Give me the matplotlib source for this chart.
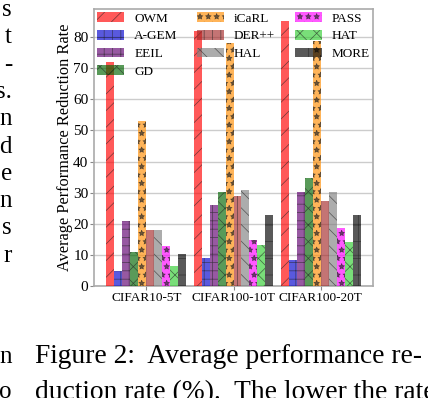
import numpy as np
from matplotlib import pyplot as plt

plt.rcParams['font.family'] = ['Liberation Serif', 'DejaVu Serif']
plt.rcParams['hatch.linewidth'] = 0.5

datasets = ["CIFAR10-5T", "CIFAR100-10T", "CIFAR100-20T"]
methods = ["OWM", "A-GEM", "EEIL", "GD", "iCaRL", "DER++", "HAL", "PASS", "HAT", "MORE"]

# reduction rate per method, one value per dataset
owm = [72, 82, 85]
agem = [4.8, 9.0, 8.3]
eeil = [20.8, 26, 30.1]
gd = [10.9, 30.1, 34.6]
icarl = [53.1, 78.1, 78.7]
derpp = [17.9, 28.8, 27.2]
hal = [17.9, 30.7, 30.1]
pass_ = [12.8, 14.7, 18.6]
hat = [6.4, 13.1, 14.1]
more = [10.2, 22.7, 22.7]
values = [owm, agem, eeil, gd, icarl, derpp, hal, pass_, hat, more]

colors = ['red', 'mediumblue', '#600070', 'darkgreen', 'darkorange',
          'brown', 'gray', 'magenta', 'limegreen', 'black']
hatches = ['//', '++', '++', 'xx', '**', '||', '\\\\', '**', 'xx', '+']

fig = plt.figure(figsize=(4.28, 3.98), dpi=100)
ax = fig.add_axes([94 / 428, 1 - 286 / 398, (373 - 94) / 428, (286 - 9) / 398])

x = np.arange(len(datasets))
w = 0.0914
for i, (m, v) in enumerate(zip(methods, values)):
    ax.bar(x + (i - 4.5) * w, v, w, color=colors[i], alpha=0.65, hatch=hatches[i],
           edgecolor='#222222', linewidth=0, label=m, zorder=3)

ax.set_xlim(-0.6, 2.6)
ax.set_ylim(0, 89)
ax.set_yticks(range(0, 90, 10))
ax.set_xticks(x)
ax.set_xticklabels(datasets, fontsize=9.5)
ax.tick_params(axis='y', labelsize=11, length=3, pad=1, color='#888888')
ax.tick_params(axis='x', length=3, pad=1, color='#888888')
ax.set_ylabel("Average Performance Reduction Rate", fontsize=11.8, labelpad=0)
ax.grid(axis='y', color='#cccccc', linewidth=1, zorder=0)
for s in ax.spines.values():
    s.set_color('#aaaaaa')
    s.set_linewidth(1.2)

ax.legend(ncol=3, loc='upper left', bbox_to_anchor=(0, 1, 1, 0), mode='expand',
          frameon=False, fontsize=9.5, handlelength=2.05, handleheight=0.75,
          labelspacing=0.4, columnspacing=0.6, borderaxespad=0, borderpad=0.25,
          handletextpad=0.75)

# surrounding page text
left = ["s", "t", "-", "s.", "n", "d", "e", "n", "s", "r"]
for k, t in enumerate(left):
    fig.text(12 / 428, 1 - (16 + k * 27.3) / 398, t, ha='right', va='baseline', fontsize=18)
fig.text(12 / 428, 1 - 363 / 398, "n", ha='right', va='baseline', fontsize=18)
fig.text(12 / 428, 1 - 398 / 398, "o", ha='right', va='baseline', fontsize=18)
fig.text(35 / 428, 1 - 363 / 398, "Figure 2:  Average performance re-", ha='left', va='baseline', fontsize=19.8)
fig.text(35 / 428, 1 - 399 / 398, "duction rate (%).  The lower the rate", ha='left', va='baseline', fontsize=19.8)

fig.savefig("out.png", dpi=100)
